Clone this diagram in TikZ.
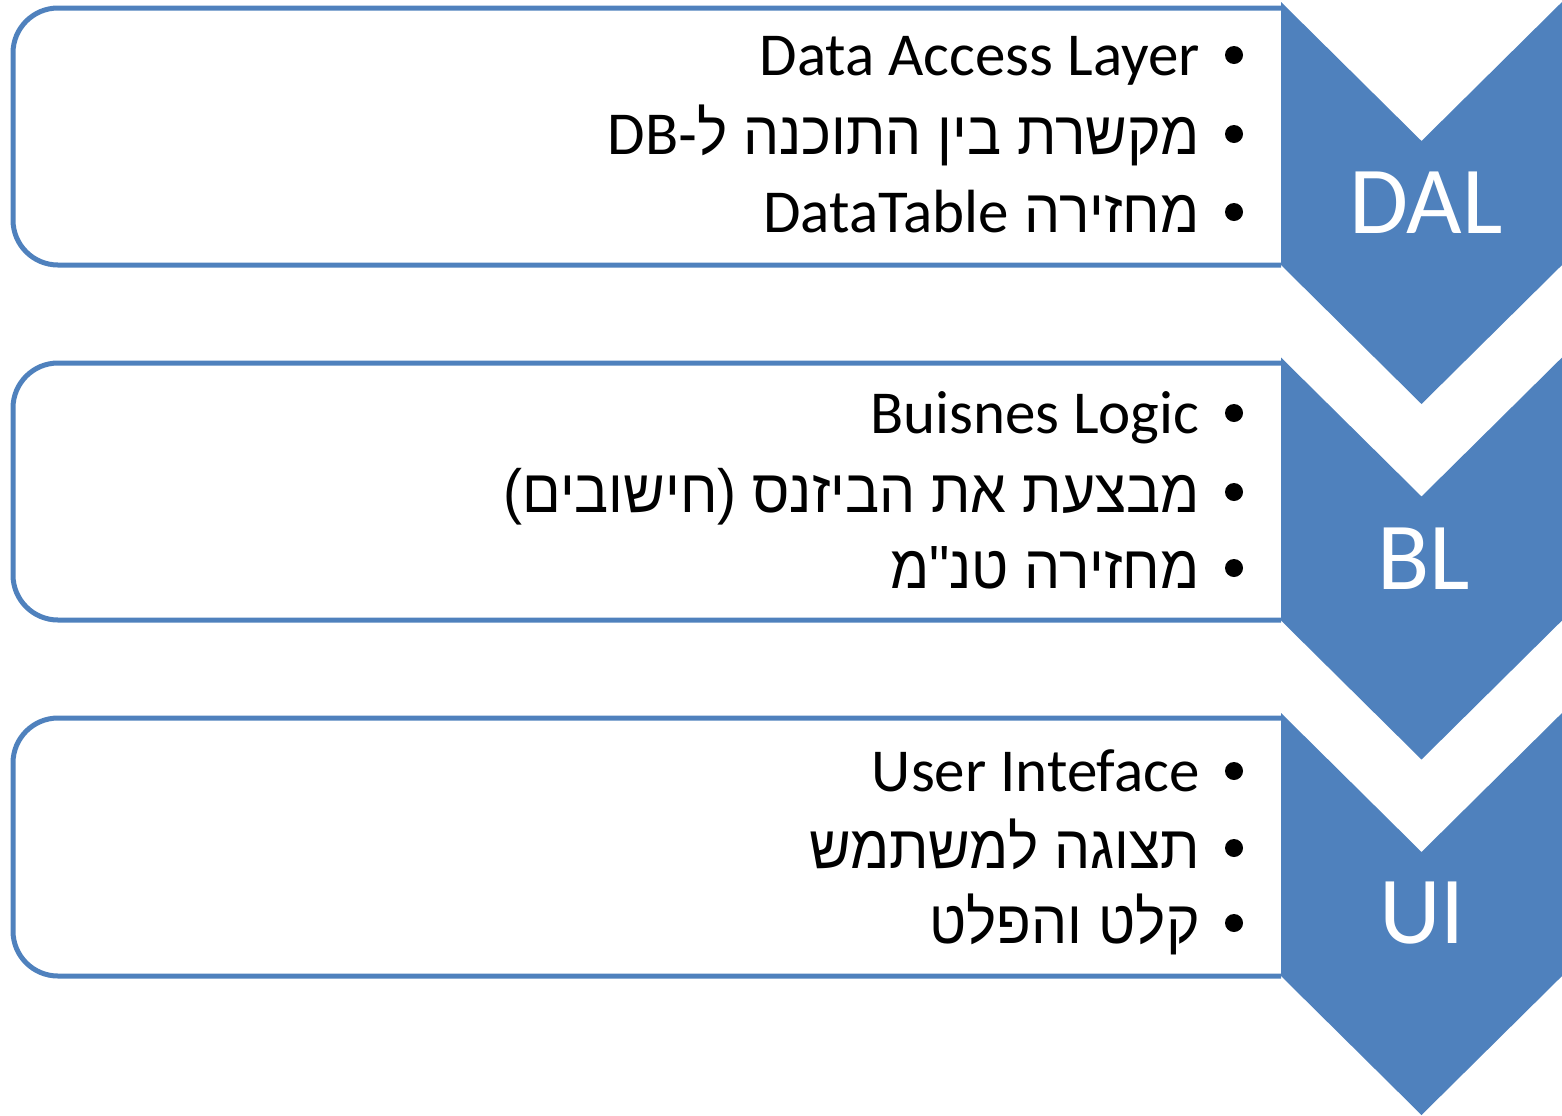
\documentclass[tikz,border=0pt]{standalone}
\usepackage{fontspec}
\setmainfont{Carlito}
\newfontfamily\heb[Script=Hebrew,FakeStretch=0.935]{Liberation Sans}
\TeXXeTstate=1
\definecolor{accent}{HTML}{4F81BD}
\tikzset{
  boxline/.style={draw=accent, line width=2.5pt, rounded corners=22.5pt},
  chev/.style={fill=accent},
  item/.style={anchor=base east, inner sep=0pt, font=\fontsize{30.5}{36}\selectfont},
  dot/.style={circle, fill=black, inner sep=0pt, minimum size=9pt},
  lab/.style={text=white, inner sep=0pt, font=\fontsize{48}{56}\selectfont}
}
\begin{document}
\begin{tikzpicture}[x=0.5pt,y=-0.5pt]
\useasboundingbox (0,0) rectangle (1562,1115);
% boxes
\draw[boxline] (1281,8) -- (13,8) -- (13,265) -- (1281,265);
\draw[boxline] (1281,363) -- (13,363) -- (13,620) -- (1281,620);
\draw[boxline] (1281,718) -- (13,718) -- (13,976) -- (1281,976);
% chevrons
\fill[chev] (1281,2) -- (1421.5,141) -- (1562,2) -- (1562,265) -- (1421.5,404) -- (1281,265) -- cycle;
\fill[chev] (1281,357.5) -- (1421.5,496.5) -- (1562,357.5) -- (1562,620.5) -- (1421.5,759.5) -- (1281,620.5) -- cycle;
\fill[chev] (1281,713) -- (1421.5,852) -- (1562,713) -- (1562,976) -- (1421.5,1115) -- (1281,976) -- cycle;
% labels
\node[lab] (dal) at (1426,203) {DAL};
\node[lab] (bl) at (1424,559) {BL};
\node[lab] (ui) at (1422,913) {UI};
% bullets
\node[dot] (b11) at (1234,55) {};
\node[dot] (b12) at (1234,134) {};
\node[dot] (b13) at (1234,212) {};
\node[dot] (b21) at (1234,413) {};
\node[dot] (b22) at (1234,492) {};
\node[dot] (b23) at (1234,568) {};
\node[dot] (b31) at (1234,771) {};
\node[dot] (b32) at (1234,848) {};
\node[dot] (b33) at (1234,923) {};
% texts
\node[item] (t11) at (1200,75) {Data Access Layer};
\node[item] (t12) at (1200,154) {\heb\beginR מקשרת בין התוכנה ל-\beginL{\rmfamily DB}\endL\endR};
\node[item] (t13) at (1200,232) {\heb\beginR מחזירה \beginL{\rmfamily DataTable}\endL\endR};
\node[item] (t21) at (1200,433) {Buisnes Logic};
\node[item] (t22) at (1200,512) {\heb\beginR מבצעת את הביזנס (חישובים)\endR};
\node[item] (t23) at (1200,588) {\heb\beginR מחזירה טנ"מ\endR};
\node[item] (t31) at (1200,791) {User Inteface};
\node[item] (t32) at (1200,868) {\heb\beginR תצוגה למשתמש\endR};
\node[item] (t33) at (1200,943) {\heb\beginR קלט והפלט\endR};
\end{tikzpicture}
\end{document}
